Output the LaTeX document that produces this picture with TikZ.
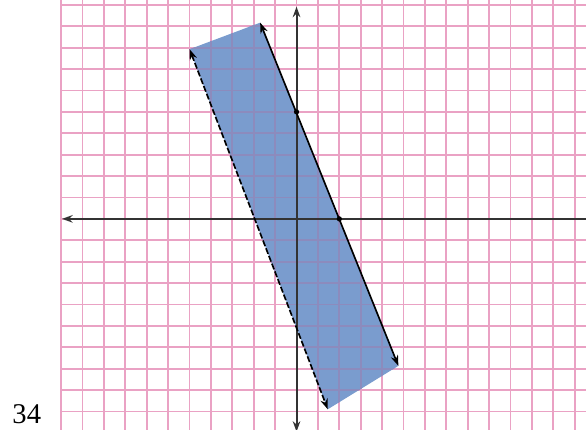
\documentclass[tikz,border=0pt]{standalone}
\usepackage{fontspec}
\setmainfont{Liberation Serif}
\usetikzlibrary{arrows.meta}
\definecolor{gridpink}{HTML}{EAA2C4}
\definecolor{fillblue}{HTML}{7A9CCE}
\definecolor{gridin}{HTML}{8C8BBD}
\definecolor{axisgray}{HTML}{333333}
\begin{document}
\begin{tikzpicture}[x=0.5cm,y=0.5cm,
  gridline/.style={draw=gridpink,line width=1.2pt},
  gridinner/.style={draw=gridin,line width=1.2pt},
  axisline/.style={draw=axisgray,line width=1.3pt,-{Stealth[length=7pt,width=5pt]}},
  boundline/.style={draw=black,line width=1.1pt,{Stealth[length=7pt,width=5pt]}-{Stealth[length=7pt,width=5pt]}},
  ptdot/.style={circle,fill=black,inner sep=0pt,minimum size=3.5pt}]
\clip (-13.86,-9.86) rectangle (13.53,10.23);
\useasboundingbox (-13.86,-9.86) rectangle (13.53,10.23);
\foreach \x in {-11,...,13} \draw[gridline] (\x,-10.5) -- (\x,10.5);
\foreach \y in {-9,...,10} \draw[gridline] (-11,\y) -- (14,\y);
\coordinate (st) at (-1.7,9.17);
\coordinate (sb) at (4.76,-6.87);
\coordinate (dt) at (-5.0,7.93);
\coordinate (db) at (1.46,-8.9);
\fill[fillblue] (st) -- (sb) -- (db) -- (dt) -- cycle;
\begin{scope}
  \clip (st) -- (sb) -- (db) -- (dt) -- cycle;
  \foreach \x in {-11,...,13} \draw[gridinner] (\x,-10.5) -- (\x,10.5);
  \foreach \y in {-9,...,10} \draw[gridinner] (-11,\y) -- (14,\y);
\end{scope}
\coordinate (ytop) at (0,9.92);
\coordinate (ybot) at (0,-9.95);
\coordinate (xleft) at (-10.96,0);
\coordinate (xright) at (14.2,0);
\coordinate (o) at (0,0);
\draw[axisline] (o) -- (ytop);
\draw[axisline] (o) -- (ybot);
\draw[axisline] (o) -- (xleft);
\draw[axisline] (o) -- (xright);
\draw[boundline] (st) -- (sb);
\draw[boundline,dash pattern=on 4pt off 1.5pt] (dt) -- (db);
\node[ptdot] (p1) at (0,5) {};
\node[ptdot] (p2) at (2,0) {};
\node[anchor=base west,inner sep=0pt,font=\fontsize{19}{22}\selectfont] (lbl) at (-13.29,-9.55) {34};
\end{tikzpicture}
\end{document}
